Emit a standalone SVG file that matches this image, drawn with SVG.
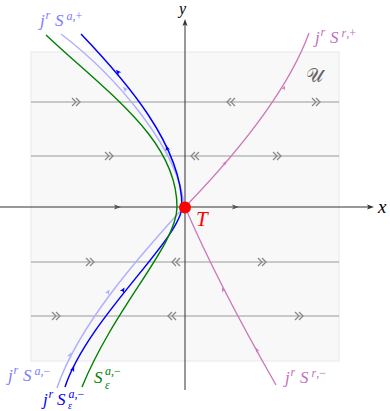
<svg xmlns="http://www.w3.org/2000/svg" width="390" height="411" viewBox="0 0 390 411">
<style>
.flow{stroke:#999;stroke-width:1;fill:none}
.chev{stroke:#888;stroke-width:1.3;fill:none}
.axis{stroke:#333;stroke-width:1;fill:none}
.m{font-family:"Liberation Serif",serif;font-style:italic;font-size:17px}
.s{font-size:12px}
.up{font-style:normal}
.blue{stroke:#0000ff;stroke-width:1.5;fill:none}
.lblue{stroke:#b0b0ff;stroke-width:1.5;fill:none}
.green{stroke:#008000;stroke-width:1.4;fill:none}
.mag{stroke:#cc77bb;stroke-width:1.3;fill:none}
</style>
<defs>
<path id="ch" d="M-6,-4 L-2,0 L-6,4 M-2,-4 L2,0 L-2,4"/>
<path id="ah" d="M3,0 L-2.5,-2.3 L-1.2,0 L-2.5,2.3 Z"/>
<path id="ax" d="M3,0 L-4,-2.5 L-2.5,0 L-4,2.5 Z"/>
</defs>
<g id="region">
<rect x="31" y="52" width="308" height="309" fill="#f8f8f8" stroke="#ececec" stroke-width="1.2"/>
<text x="306" y="82" font-family="DejaVu Serif,serif" font-size="19" fill="#666">𝒰</text>
</g>
<g id="flows">
<line class="flow" x1="31" y1="102" x2="339" y2="102"/>
<line class="flow" x1="31" y1="156" x2="339" y2="156"/>
<line class="flow" x1="31" y1="262" x2="339" y2="262"/>
<line class="flow" x1="31" y1="316" x2="339" y2="316"/>
<g class="chev">
<use href="#ch" transform="translate(78,102)"/>
<use href="#ch" transform="translate(229,102) scale(-1,1)"/>
<use href="#ch" transform="translate(318,102)"/>
<use href="#ch" transform="translate(111,156)"/>
<use href="#ch" transform="translate(193,156) scale(-1,1)"/>
<use href="#ch" transform="translate(279,156)"/>
<use href="#ch" transform="translate(92,262)"/>
<use href="#ch" transform="translate(174,262) scale(-1,1)"/>
<use href="#ch" transform="translate(264,262)"/>
<use href="#ch" transform="translate(58,316)"/>
<use href="#ch" transform="translate(170,316) scale(-1,1)"/>
<use href="#ch" transform="translate(301,316)"/>
</g>
</g>
<g id="axes">
<line class="axis" x1="0" y1="207" x2="371" y2="207"/>
<line class="axis" x1="185" y1="390" x2="185" y2="22"/>
<g fill="#333">
<use href="#ax" transform="translate(371,207)"/>
<use href="#ax" transform="translate(185,22) rotate(-90)"/>
<use href="#ax" fill="#555" transform="translate(118,207)"/>
<use href="#ax" fill="#555" transform="translate(236,207)"/>
</g>
<text class="m" x="378" y="213" style="font-size:19px">x</text>
<text class="m" x="179" y="14" style="font-size:16px">y</text>
</g>
<g id="connectors">
<path id="jrSa" class="lblue" d="M61,34 C115,75 180,150 184,207 C150,245 80,320 57,388"/>
<path id="jrSaeps" class="blue" d="M81,34 C125,80 182,145 182,207 C180,240 88,318 65,387"/>
<path id="Saeps" class="green" d="M46,35 C110,95 177,140 177,207 C177,245 115,306 82,387"/>
<path id="jrSr" class="mag" d="M309,33 C290,85 245,145 185,207 C210,265 240,322 276,385"/>
<g fill="#b0b0ff">
<use href="#ah" transform="translate(125,89) rotate(-132)"/>
<use href="#ah" transform="translate(108,292) rotate(-61)"/>
<use href="#ah" transform="translate(70,355) rotate(-68)"/>
</g>
<g fill="#0000ff">
<use href="#ah" transform="translate(118,72) rotate(-134)"/>
<use href="#ah" transform="translate(167,148) rotate(-109)"/>
<use href="#ah" transform="translate(123,290) rotate(-58)"/>
<use href="#ah" transform="translate(73,369) rotate(-66)"/>
</g>
<g fill="#cc77bb">
<use href="#ah" transform="translate(225,163) rotate(-48) scale(0.8)"/>
<use href="#ah" transform="translate(284,88) rotate(-63) scale(0.8)"/>
<use href="#ah" transform="translate(223,290) rotate(-117) scale(0.8)"/>
<use href="#ah" transform="translate(257,350) rotate(-119) scale(0.8)"/>
</g>
</g>
<g id="T">
<circle cx="185" cy="207.5" r="6" fill="#ff0000"/>
<text class="m" x="196" y="226" fill="#ff0000" style="font-size:21px">T</text>
</g>
<g id="labels">
<text class="m" fill="#7b7bff"><tspan x="40" y="26">j</tspan><tspan class="s" x="45.5" y="19">r</tspan><tspan x="55" y="26">S</tspan><tspan class="s" x="66.5" y="20">a<tspan class="up">,+</tspan></tspan></text>
<text class="m" fill="#c070c0"><tspan x="315" y="43">j</tspan><tspan class="s" x="320.5" y="36">r</tspan><tspan x="330" y="43">S</tspan><tspan class="s" x="341.5" y="37">r<tspan class="up">,+</tspan></tspan></text>
<text class="m" fill="#7b7bff"><tspan x="8" y="381">j</tspan><tspan class="s" x="13.5" y="374">r</tspan><tspan x="23" y="381">S</tspan><tspan class="s" x="34.5" y="375">a<tspan class="up">,−</tspan></tspan></text>
<text class="m" fill="#0000ff"><tspan x="43" y="405">j</tspan><tspan class="s" x="48.5" y="398">r</tspan><tspan x="57" y="405">S</tspan><tspan class="s" x="68.5" y="398">a<tspan class="up">,−</tspan></tspan><tspan x="68" y="409" style="font-size:10px">ε</tspan></text>
<text class="m" fill="#008000"><tspan x="94" y="383">S</tspan><tspan class="s" x="105" y="375">a<tspan class="up">,−</tspan></tspan><tspan class="s" x="105" y="389">ε</tspan></text>
<text class="m" fill="#c070c0"><tspan x="285" y="383">j</tspan><tspan class="s" x="290.5" y="376">r</tspan><tspan x="300" y="383">S</tspan><tspan class="s" x="311.5" y="377">r<tspan class="up">,−</tspan></tspan></text>
</g>
</svg>
